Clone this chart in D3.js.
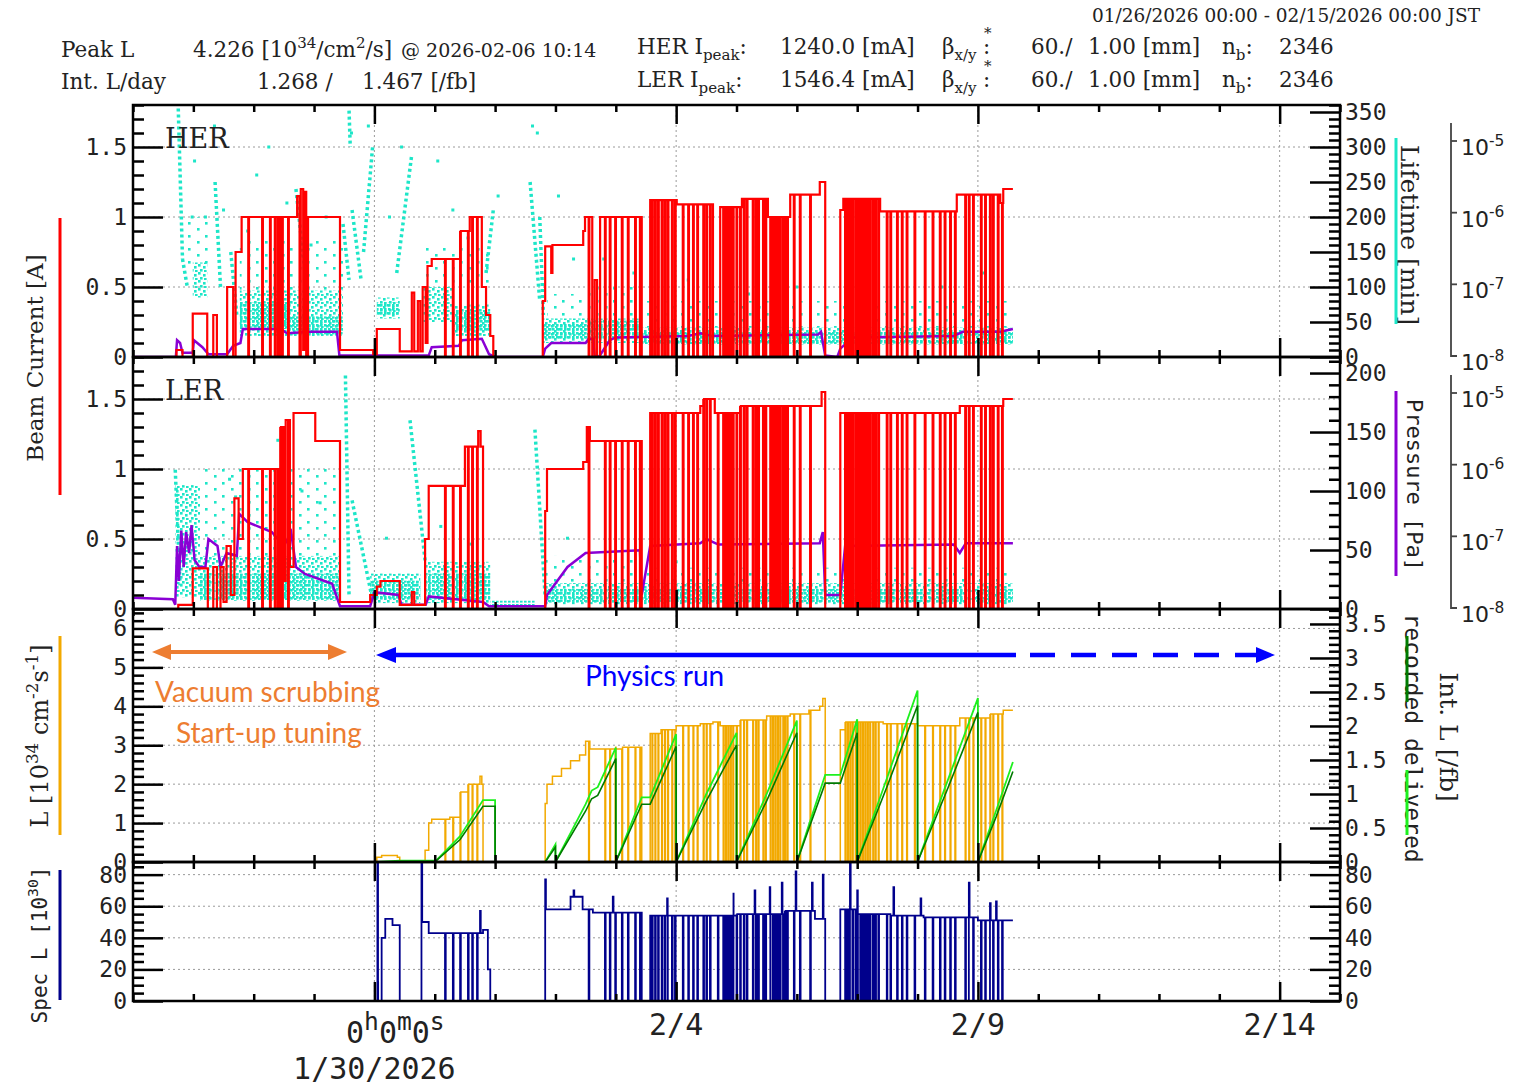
<!DOCTYPE html>
<html>
<head>
<meta charset="utf-8">
<script src="https://cdn.jsdelivr.net/npm/d3@7/dist/d3.min.js"></script>
<style>
body{margin:0;background:#fff;}
svg{display:block;}
</style>
</head>
<body>
<svg id="chart" width="1524" height="1087"></svg>
<script>
// ================= DATA (time = days since 2026-01-26 00:00 JST) =================
const gridDays = [4, 9, 14, 19];
const xTickLabels = [{day: 9, text: "2/4"}, {day: 14, text: "2/9"}, {day: 19, text: "2/14"}];
const originLabel = {day: 4, date: "1/30/2026"};

const herTicks = [0, 0.5, 1, 1.5];
const lerTicks = [0, 0.5, 1, 1.5];
const lifeTicks = [0, 50, 100, 150, 200, 250, 300, 350];
const lerRightTicks = [0, 50, 100, 150, 200];
const lumTicks = [0, 1, 2, 3, 4, 5, 6];
const intTicks = [0, 0.5, 1, 1.5, 2, 2.5, 3, 3.5];
const specTicks = [0, 20, 40, 60, 80];
const logTicks = [1e-5, 1e-6, 1e-7, 1e-8];

// Beam currents [A] (step levels)
const herCurrent = [
 [0,0],[0.72,0.05],[0.82,0],[0.99,0.31],[1.23,0],[1.33,0.3],[1.39,0],[1.56,0.5],[1.66,0],[1.70,0.75],[1.80,1.0],
 [2.72,1.15],[2.76,0],[2.78,1.2],[2.82,0.05],[2.84,1.18],[2.87,0],[2.90,1.0],[3.43,0.05],[3.98,0.02],
 [4.04,0.2],[4.42,0.04],[4.62,0.46],[4.66,0.04],[4.72,0.4],[4.76,0.04],[4.80,0.5],[4.85,0.1],[4.88,0.65],[4.95,0.7],
 [5.42,0.9],[5.58,1.0],[5.78,0.5],[5.85,0.3],[5.92,0.15],[5.97,0],
 [6.79,0.4],[6.83,0.79],[6.93,0.6],[6.95,0.8],[7.46,0.9],[7.49,1.0],[7.61,0],[7.65,0.55],[7.69,0],[7.74,1.0],
 [8.43,0],[8.57,1.12],[9.01,1.09],[9.61,0],[9.73,1.07],[10.09,1.13],[10.52,1.0],[10.89,1.16],[11.38,1.25],[11.47,0],
 [11.72,1.05],[11.77,1.13],[12.38,1.04],[13.65,1.16],[14.37,1.1],[14.42,1.2],[14.58,1.2]
];
const lerCurrent = [
 [0,0],[0.75,0.03],[0.99,0.29],[1.24,0],[1.33,0.3],[1.39,0],[1.45,0.3],[1.50,0.05],[1.55,0.45],[1.62,0.1],[1.68,0.79],
 [1.75,0.5],[1.82,1.0],[2.44,1.3],[2.50,0.2],[2.53,1.35],[2.60,0.3],[2.66,1.4],[3.02,1.2],[3.43,0.05],[3.93,0.1],
 [4.04,0.16],[4.10,0.2],[4.42,0.03],[4.62,0.12],[4.66,0.03],[4.84,0.5],[4.90,0.88],[5.50,1.16],[5.72,1.27],[5.76,1.16],[5.80,0],
 [6.83,0.7],[6.86,1.0],[7.46,1.05],[7.52,1.3],[7.57,1.2],[8.43,0],[8.57,1.4],[9.40,1.45],[9.45,1.5],[9.64,1.4],
 [10.06,1.45],[11.38,1.45],[11.41,1.55],[11.47,0],[11.72,1.4],[13.70,1.45],[14.42,1.5],[14.58,1.5]
];
const tuningAborts = [1.91, 2.14, 2.27, 2.35, 2.40, 2.44, 2.47, 2.57];
const run131Aborts = [5.17, 5.30, 5.42, 5.55, 5.62, 5.70];
const physicsAborts = [7.55,7.82,7.90,7.99,8.10,8.20,8.32,8.40,8.60,8.65,8.70,8.76,8.81,8.86,8.93,8.98,9.11,9.20,9.28,9.35,9.45,
 9.50,9.56,9.69,9.78,9.82,9.86,9.90,9.94,10.00,10.06,10.12,10.17,10.27,10.32,10.36,10.44,10.48,10.56,10.60,10.64,10.68,10.72,
 10.77,10.80,10.84,10.95,11.05,11.22,11.80,11.84,11.88,11.92,11.97,12.01,12.05,12.09,12.13,12.17,12.21,12.26,12.30,12.35,
 12.49,12.55,12.66,12.74,12.82,12.95,13.12,13.25,13.37,13.45,13.54,13.62,13.79,13.85,13.92,14.05,14.12,14.20,14.25,14.33,14.40];

// Vacuum pressure traces (plotted on the current scale)
const herPressure = [
 [0,0],[0.71,0],[0.73,0.12],[0.78,0.1],[0.82,0.03],[0.99,0.03],[1.01,0.12],[1.15,0.07],[1.25,0.02],[1.56,0.02],[1.66,0.08],
 [1.78,0.1],[1.82,0.2],[2.45,0.2],[2.55,0.17],[2.93,0.18],[3.38,0.18],[3.42,0.01],[4.90,0.01],[4.95,0.07],[5.40,0.08],
 [5.45,0.12],[5.78,0.13],[5.90,0.02],[6.0,0],[6.79,0],[6.83,0.06],[6.93,0.1],[7.50,0.1],[7.55,0.13],[7.62,0.13],[7.65,0.01],
 [7.72,0],[7.90,0.12],[8.0,0.14],[9.2,0.15],[9.4,0.17],[9.6,0.15],[11.35,0.16],[11.4,0.18],[11.47,0.01],[11.67,0],
 [11.72,0.06],[11.93,0.14],[13.6,0.15],[13.75,0.18],[14.37,0.18],[14.58,0.2]
];
const lerPressure = [
 [0,0.08],[0.66,0.07],[0.70,0.03],[0.73,0.45],[0.76,0.2],[0.80,0.56],[0.84,0.3],[0.88,0.55],[0.93,0.4],[0.97,0.6],
 [1.02,0.35],[1.10,0.3],[1.20,0.3],[1.25,0.5],[1.40,0.45],[1.45,0.3],[1.55,0.4],[1.72,0.38],[1.76,0.68],[1.90,0.62],
 [2.30,0.55],[2.50,0.45],[2.62,0.55],[2.70,0.3],[2.85,0.25],[3.30,0.18],[3.43,0.02],[3.93,0.02],[4.0,0.12],[4.4,0.1],
 [4.45,0.03],[4.85,0.03],[4.9,0.09],[5.8,0.05],[5.9,0.02],[6.83,0.02],[6.86,0.1],[7.2,0.3],[7.5,0.4],[8.4,0.42],
 [8.43,0.1],[8.57,0.45],[9.4,0.47],[9.5,0.5],[9.7,0.46],[11.38,0.47],[11.43,0.55],[11.47,0.1],[11.72,0.1],[11.8,0.45],
 [13.6,0.46],[13.7,0.4],[13.8,0.47],[14.58,0.47]
];

// Beam lifetime [min]: dense / medium / sparse bands [t0,t1,lo,hi], streaks [t0,v0,t1,v1], isolated dots [t,v]
const herLifeDense = [[1.77,2.60,40,78],[2.60,3.48,32,58],[4.04,4.42,60,78],[5.30,5.92,36,66],[6.79,7.57,26,48],
 [7.57,8.40,26,52],[8.40,14.58,20,36]];
const herLifeMedium = [[0.99,1.23,85,135],[1.77,3.48,30,95],[4.04,4.42,55,85],[4.81,5.30,50,100],[5.30,5.92,30,75],
 [6.79,8.40,20,55],[8.40,14.58,18,42]];
const herLifeSparse = [[0.86,1.30,130,200],[1.77,3.48,95,170],[4.81,5.92,100,160],[6.86,7.57,55,90],[7.57,8.40,55,100],[8.40,14.58,42,80]];
const herLifeStreaks = [[0.75,355,0.82,140],[0.82,140,0.90,100],[1.36,250,1.45,100],[1.62,150,1.72,60],[2.70,240,2.85,120],
 [3.48,190,3.58,110],[3.63,210,3.78,110],[3.82,150,3.97,300],[3.58,352,3.60,300],[4.37,120,4.62,290],[5.85,120,5.97,210],
 [6.58,250,6.74,80],[6.74,200,6.80,60]];
const herLifeDots = [[0.98,200],[1.02,280],[1.20,200],[1.35,330],[1.50,210],[1.90,180],[2.05,260],[2.25,300],[2.55,220],
 [2.95,160],[3.20,200],[3.62,320],[3.90,330],[4.25,200],[4.45,300],[5.05,280],[5.30,210],[5.55,170],[6.05,230],
 [6.62,330],[6.70,320],[7.05,230],[7.30,140],[7.80,140],[8.30,120],[9.20,110],[10.20,90],[11.00,100],[12.20,95],[13.40,100],[14.10,120]];

const lerLifeDense = [[1.11,3.43,8,30],[3.93,4.76,8,24],[4.84,5.92,8,30],[5.92,6.66,3,7],[6.83,14.58,6,17]];
const lerLifeMedium = [[0.70,1.11,10,105],[1.11,3.43,7,45],[3.93,4.76,5,30],[4.84,5.92,5,40],[6.83,14.58,4,22]];
const lerLifeSparse = [[1.11,3.43,45,120],[6.83,8.40,22,45],[8.40,14.58,22,35]];
const lerLifeStreaks = [[0.70,118,0.78,20],[3.52,198,3.58,10],[3.63,92,3.96,10],[4.59,160,4.84,41],[6.66,152,6.83,10]];
const lerLifeDots = [[1.60,110],[1.70,95],[2.40,143],[2.80,100],[3.10,90],[4.20,60],[5.10,70],[5.60,55],[7.20,60],[9.0,40],[12.0,38]];

// Luminosity [1e34 cm^-2 s^-1]
const luminosity = [
 [4.0,0],[4.04,0.12],[4.12,0.17],[4.38,0.12],[4.42,0],[4.84,0.3],[4.90,1.0],[4.95,1.1],[5.25,1.15],[5.42,1.8],[5.55,2.0],
 [5.75,2.2],[5.78,2.0],[5.80,0],[6.83,1.5],[6.86,2.0],[6.95,2.2],[7.10,2.4],[7.25,2.6],[7.40,2.75],[7.50,3.1],[7.57,2.9],
 [8.0,2.95],[8.43,0],[8.57,3.3],[8.75,3.4],[9.0,3.5],[9.40,3.55],[9.61,3.6],[9.73,3.5],[10.06,3.65],[10.50,3.75],
 [10.89,3.8],[11.2,3.9],[11.38,4.0],[11.43,4.2],[11.47,0],[11.72,3.4],[11.80,3.6],[12.43,3.55],[13.0,3.5],[13.7,3.7],
 [14.2,3.8],[14.42,3.9],[14.58,3.9]
];
// Integrated luminosity per day [/fb]
const deliveredIntL = [
 [4.04,0],[4.42,0.02],[5.0,0.02],[5.0,0],[5.42,0.38],[5.80,0.91],[6.0,0.91],[6.0,0],[6.83,0],[7.0,0.26],
 [7.0,0],[7.5,0.85],[7.6,1.05],[7.7,1.1],[8.0,1.68],[8.0,0],[8.43,0.95],[8.57,0.95],[9.0,1.88],
 [9.0,0],[9.5,1.0],[10.0,1.9],[10.0,0],[10.5,1.0],[11.0,2.08],[11.0,0],[11.47,1.28],[11.72,1.28],[12.0,2.1],
 [12.0,0],[12.5,1.25],[13.0,2.52],[13.0,0],[13.5,1.2],[14.0,2.41],[14.0,0],[14.3,0.75],[14.58,1.47]
];
const recordedIntL = [
 [5.0,0],[5.42,0.33],[5.80,0.82],[6.0,0.82],[6.0,0],[6.83,0],[7.0,0.22],
 [7.0,0],[7.5,0.75],[7.6,0.93],[7.7,0.98],[8.0,1.52],[8.0,0],[8.43,0.85],[8.57,0.85],[9.0,1.70],
 [9.0,0],[9.5,0.9],[10.0,1.72],[10.0,0],[10.5,0.9],[11.0,1.9],[11.0,0],[11.47,1.16],[11.72,1.16],[12.0,1.9],
 [12.0,0],[12.5,1.12],[13.0,2.3],[13.0,0],[13.5,1.08],[14.0,2.2],[14.0,0],[14.3,0.66],[14.58,1.33]
];
// Specific luminosity [1e30]
const specLumi = [
 [0,0],[3.98,0],[4.06,12],[4.12,40],[4.18,52],[4.30,48],[4.42,0],[4.78,50],[4.90,43],[5.80,45],[5.88,20],[5.92,0],
 [6.83,58],[7.25,66],[7.45,58],[7.62,56],[8.43,0],[8.57,54],[9.0,54],[10.0,55],[10.8,57],[11.3,52],[11.47,0],
 [11.72,58],[12.0,55],[12.5,54],[13.1,53],[14.0,51],[14.58,51]
];
const specSpikes = [[4.05,88],[4.78,88],[5.75,57],[6.83,77],[7.30,70],[7.95,66],[8.85,65],[9.95,68],[10.30,70],
 [10.55,72],[10.75,75],[10.98,82],[11.25,75],[11.43,80],[11.88,88],[12.00,70],[12.60,72],[13.05,65],[13.85,75],[14.20,62],[14.30,63]];

// ================= DRAWING =================
const svg = d3.select("#chart");
const X0 = 133, X1 = 1340;
const x = d3.scaleLinear().domain([0, 20]).range([X0, X1]);
const P = {her: [105, 357], ler: [357, 609], lum: [609, 862], spec: [862, 1001]};
const yHer = d3.scaleLinear().domain([0, 1.8]).range([357, 105]);
const yHerLife = d3.scaleLinear().domain([0, 360]).range([357, 105]);
const yHerLog = d3.scaleLog().domain([1e-8, 1e-5]).range([356, 141]);
const yLer = d3.scaleLinear().domain([0, 1.8]).range([609, 357]);
const yLerR = d3.scaleLinear().domain([0, 213.6]).range([609, 357]);
const yLerLog = d3.scaleLog().domain([1e-8, 1e-5]).range([608, 393]);
const yLum = d3.scaleLinear().domain([0, 6.5]).range([862, 609]);
const yInt = d3.scaleLinear().domain([0, 3.72]).range([862, 609]);
const ySpec = d3.scaleLinear().domain([0, 88]).range([1001, 862]);

const C = {red: "#ff0000", cyan: "#1de6c8", purple: "#8a00d4", orange: "#f2a900", dgreen: "#007a00",
 lime: "#1ef01e", navy: "#00008c", grid: "#9a9a9a"};
const SERIF = "DejaVu Serif", MONO = "DejaVu Sans Mono", SANS = "DejaVu Sans";

const defs = svg.append("defs");
Object.entries(P).forEach(([k, [t, b]]) => {
  defs.append("clipPath").attr("id", "clip-" + k).append("rect")
    .attr("x", X0).attr("y", t).attr("width", X1 - X0).attr("height", b - t);
});
function pattern(id, w, h, cells) {
  const p = defs.append("pattern").attr("id", id).attr("width", w).attr("height", h).attr("patternUnits", "userSpaceOnUse");
  cells.forEach(([cx, cy]) => p.append("rect").attr("x", cx).attr("y", cy).attr("width", 2.6).attr("height", 2.6).attr("fill", C.cyan));
}
pattern("dense", 4, 4, [[0, 0]]);
pattern("medium", 9, 8, [[0, 0], [5, 2], [2, 5], [6, 6]]);
pattern("sparse", 17, 13, [[1, 1], [10, 7]]);

// helpers
function levelAt(series, t) { let v = 0; for (const p of series) { if (p[0] <= t) v = p[1]; else break; } return v; }
function withEvents(series, aborts, spikes) {
  const w = 0.012;
  const pts = series.map(p => [p[0], p[1]]);
  const lo = series[0][0], hi = series[series.length - 1][0];
  (aborts || []).forEach(t => {
    if (t <= lo || t >= hi) return;
    const v = levelAt(series, t);
    if (v > 0.05) pts.push([t, 0], [t + w, v]);
  });
  (spikes || []).forEach(([t, s]) => {
    if (t < lo || t >= hi) return;
    const v = levelAt(series, t);
    pts.push([t, s], [t + w, v]);
  });
  pts.sort((a, b) => a[0] - b[0]);
  return pts;
}
const allAborts = tuningAborts.concat(run131Aborts, physicsAborts);

function layer(k) { return svg.append("g").attr("clip-path", `url(#clip-${k})`); }

// ---- grid ----
const grid = svg.append("g").attr("stroke", C.grid).attr("stroke-width", 1).attr("stroke-dasharray", "2,3");
gridDays.forEach(d => grid.append("line").attr("x1", x(d)).attr("x2", x(d)).attr("y1", 105).attr("y2", 1001));
[[yHer, [0.5, 1, 1.5]], [yLer, [0.5, 1, 1.5]], [yLum, [1, 2, 3, 4, 5, 6]], [ySpec, [20, 40, 60, 80]]].forEach(([y, vals]) => {
  vals.forEach(v => grid.append("line").attr("x1", X0).attr("x2", X1).attr("y1", y(v)).attr("y2", y(v)));
});

// ---- lifetime (cyan) ----
function drawLife(k, yS, dense, medium, sparse, streaks, dots) {
  const g = layer(k);
  [[sparse, "sparse"], [medium, "medium"], [dense, "dense"]].forEach(([bands, pat]) => {
    g.selectAll(null).data(bands).join("rect")
      .attr("x", d => x(d[0])).attr("width", d => x(d[1]) - x(d[0]))
      .attr("y", d => yS(d[3])).attr("height", d => yS(d[2]) - yS(d[3])).attr("fill", `url(#${pat})`);
  });
  g.selectAll(null).data(streaks).join("line")
    .attr("x1", d => x(d[0])).attr("y1", d => yS(d[1])).attr("x2", d => x(d[2])).attr("y2", d => yS(d[3]))
    .attr("stroke", C.cyan).attr("stroke-width", 3.5).attr("stroke-dasharray", "3,3");
  g.selectAll(null).data(dots).join("rect")
    .attr("x", d => x(d[0]) - 1.5).attr("y", d => yS(d[1]) - 1.5).attr("width", 3).attr("height", 3).attr("fill", C.cyan);
}
drawLife("her", yHerLife, herLifeDense, herLifeMedium, herLifeSparse, herLifeStreaks, herLifeDots);
drawLife("ler", yLerR, lerLifeDense, lerLifeMedium, lerLifeSparse, lerLifeStreaks, lerLifeDots);

// ---- pressure (purple) ----
const lin = (y) => d3.line().x(d => x(d[0])).y(d => y(d[1]));
const step = (y) => d3.line().x(d => x(d[0])).y(d => y(d[1])).curve(d3.curveStepAfter);
layer("her").append("path").attr("d", lin(yHer)(herPressure)).attr("fill", "none").attr("stroke", C.purple).attr("stroke-width", 2.5);
layer("ler").append("path").attr("d", lin(yLer)(lerPressure)).attr("fill", "none").attr("stroke", C.purple).attr("stroke-width", 2.5);

// ---- currents (red) ----
layer("her").append("path").attr("d", step(yHer)(withEvents(herCurrent, allAborts))).attr("fill", "none")
  .attr("stroke", C.red).attr("stroke-width", 2.2);
layer("ler").append("path").attr("d", step(yLer)(withEvents(lerCurrent, allAborts))).attr("fill", "none")
  .attr("stroke", C.red).attr("stroke-width", 2.2);

// ---- luminosity ----
layer("lum").append("path").attr("d", step(yLum)(withEvents(luminosity, run131Aborts.concat(physicsAborts)))).attr("fill", "none")
  .attr("stroke", C.orange).attr("stroke-width", 1.5);
layer("lum").append("path").attr("d", lin(yInt)(deliveredIntL)).attr("fill", "none").attr("stroke", C.lime).attr("stroke-width", 1.8);
layer("lum").append("path").attr("d", lin(yInt)(recordedIntL)).attr("fill", "none").attr("stroke", C.dgreen).attr("stroke-width", 1.6);

// ---- specific luminosity ----
layer("spec").append("path").attr("d", step(ySpec)(withEvents(specLumi, run131Aborts.concat(physicsAborts), specSpikes)))
  .attr("fill", "none").attr("stroke", C.navy).attr("stroke-width", 1.8);

// ---- frames ----
Object.values(P).forEach(([t, b]) => svg.append("rect").attr("x", X0).attr("y", t).attr("width", X1 - X0).attr("height", b - t)
  .attr("fill", "none").attr("stroke", "#000").attr("stroke-width", 2.5));

// ---- x ticks ----
const dayTicks = x.ticks(20);
function xTicks(y, dir) {
  [[dayTicks.filter(d => !gridDays.includes(d)), 7], [gridDays, 19]].forEach(([vals, len]) => {
    const ax = (dir === "down" ? d3.axisBottom(x) : d3.axisTop(x)).tickValues(vals).tickSize(len).tickFormat("");
    const g = svg.append("g").attr("transform", `translate(0,${y})`).call(ax);
    g.select(".domain").remove();
    g.selectAll(".tick line").attr("stroke", "#000").attr("stroke-width", 2.5);
  });
}
[105, 357, 609, 862].forEach(y => xTicks(y, "down"));
[357, 609, 862, 1001].forEach(y => xTicks(y, "up"));

// ---- y axes ----
function yAxis(scale, side, majors, minorStep, fmt) {
  const X = side === "left" ? X0 : X1;
  const mk = side === "left" ? d3.axisLeft : d3.axisRight;
  const g = svg.append("g").attr("transform", `translate(${X},0)`)
    .call(mk(scale).tickValues(majors).tickSizeInner(-30).tickSizeOuter(0).tickPadding(side === "left" ? 6 : 5).tickFormat(fmt));
  g.select(".domain").remove();
  g.selectAll(".tick line").attr("stroke", "#000").attr("stroke-width", 2.5);
  g.selectAll(".tick text").attr("font-family", MONO).attr("font-size", 23).attr("fill", "#222");
  const [d0, d1] = scale.domain();
  const minors = d3.range(d0, d1 + 1e-9, minorStep).filter(v => !majors.some(m => Math.abs(m - v) < 1e-6));
  const gm = svg.append("g").attr("transform", `translate(${X},0)`)
    .call(mk(scale).tickValues(minors).tickSizeInner(-11).tickSizeOuter(0).tickFormat(""));
  gm.select(".domain").remove();
  gm.selectAll(".tick line").attr("stroke", "#000").attr("stroke-width", 2.5);
}
const f = d => String(d);
yAxis(yHer, "left", herTicks, 0.1, f);
yAxis(yLer, "left", lerTicks, 0.1, f);
yAxis(yLum, "left", lumTicks, 0.2, f);
yAxis(ySpec, "left", specTicks, 5, f);
yAxis(yHerLife, "right", lifeTicks, 10, f);
yAxis(yLerR, "right", lerRightTicks, 10, f);
yAxis(yInt, "right", intTicks, 0.1, f);
yAxis(ySpec, "right", specTicks, 5, f);

// ---- rich text helper ----
function rich(sel, parts, fs, supScale) {
  let shift = 0;
  const k = supScale || 0.7;
  parts.forEach(p => {
    const [t, type] = Array.isArray(p) ? p : [p, null];
    const target = type === "sup" ? -0.42 * fs : type === "sub" ? 0.28 * fs : 0;
    const ts = sel.append("tspan").attr("dy", target - shift).text(t);
    if (type) ts.attr("font-size", fs * k);
    shift = target;
  });
  return sel;
}
function txt(x0, y0, parts, fs, fam, opts = {}) {
  const t = svg.append("text").attr("x", x0).attr("y", y0).attr("font-size", fs).attr("font-family", fam)
    .attr("fill", opts.fill || "#222").attr("text-anchor", opts.anchor || "start");
  if (opts.rotate) t.attr("transform", `rotate(${opts.rotate},${x0},${y0})`);
  return rich(t, parts, fs, opts.supScale);
}

// ---- log pressure axes ----
function logAxis(scale, yTop, yBot) {
  const g = svg.append("g");
  g.append("path").attr("d", `M1451,${yTop}V${yBot}H1457`).attr("fill", "none").attr("stroke", "#444").attr("stroke-width", 1.8);
  logTicks.forEach(v => {
    const yy = scale(v);
    if (v > 1e-8) g.append("line").attr("x1", 1451).attr("x2", 1457).attr("y1", yy).attr("y2", yy).attr("stroke", "#444").attr("stroke-width", 1.8);
    const e = Math.round(Math.log10(v));
    txt(1461, yy + 14, ["10", [String(e), "sup"]], 22, SANS);
  });
}
logAxis(yHerLog, 123, 356);
logAxis(yLerLog, 375, 608);

// ---- header ----
const HF = 21.5;
txt(61, 57, ["Peak L"], HF, SERIF);
txt(193, 57, ["4.226 [10", ["34", "sup"], "/cm", ["2", "sup"], "/s]"], HF, SERIF);
txt(401, 57, ["@ 2026-02-06 10:14"], 19, SERIF);
txt(61, 89, ["Int. L/day"], HF, SERIF);
txt(257, 89, ["1.268 /"], HF, SERIF);
txt(362, 89, ["1.467 [/fb]"], HF, SERIF);
[["HER", "1240.0", 54, 38], ["LER", "1546.4", 87, 71]].forEach(([ring, cur, yb, ys]) => {
  txt(637, yb, [ring + " I", ["peak", "sub"], ":"], HF, SERIF);
  txt(780, yb, [cur + " [mA]"], HF, SERIF);
  txt(942, yb, ["β", ["x/y", "sub"]], HF, SERIF);
  txt(983, yb, [":"], HF, SERIF);
  txt(984, ys, ["*"], 15, SERIF);
  txt(1031, yb, ["60./"], HF, SERIF);
  txt(1088, yb, ["1.00 [mm]"], HF, SERIF);
  txt(1222, yb, ["n", ["b", "sub"], ":"], HF, SERIF);
  txt(1279, yb, ["2346"], HF, SERIF);
});
txt(1092, 22, ["01/26/2026 00:00 - 02/15/2026 00:00 JST"], 18.5, SERIF);

// ---- ring labels ----
txt(165, 148, ["HER"], 27, SERIF);
txt(165, 400, ["LER"], 27, SERIF);

// ---- x labels ----
txt(346, 1043, ["0", ["h", "sup"], "0", ["m", "sup"], "0", ["s", "sup"]], 30, MONO, {supScale: 0.82});
txt(x(originLabel.day), 1079, [originLabel.date], 30, MONO, {anchor: "middle"});
xTickLabels.forEach(d => txt(x(d.day), 1035, [d.text], 30, MONO, {anchor: "middle"}));

// ---- axis titles + colour keys ----
txt(43, 358, ["Beam Current [A]"], 23, SERIF, {anchor: "middle", rotate: -90});
txt(48, 736, ["L [10", ["34", "sup"], " cm", ["-2", "sup"], "s", ["-1", "sup"], "]"], 24, SERIF, {anchor: "middle", rotate: -90});
txt(47, 945, ["Spec L [10", ["30", "sup"], "]"], 21, MONO, {anchor: "middle", rotate: -90});
txt(1401, 235, ["Lifetime [min]"], 25, SERIF, {anchor: "middle", rotate: 90});
txt(1407, 485, ["Pressure [Pa]"], 22, MONO, {anchor: "middle", rotate: 90});
txt(1405, 738, ["recorded delivered"], 23, MONO, {anchor: "middle", rotate: 90});
txt(1440, 737, ["Int. L [/fb]"], 25, SERIF, {anchor: "middle", rotate: 90});
[[60, 218, 495, C.red], [60, 636, 835, C.orange], [60, 870, 1000, C.navy], [1396, 138, 324, C.cyan],
 [1396, 391, 576, C.purple], [1407, 636, 702, C.dgreen], [1407, 770, 835, C.lime]].forEach(([xx, a, b, c]) =>
  svg.append("line").attr("x1", xx).attr("x2", xx).attr("y1", a).attr("y2", b).attr("stroke", c).attr("stroke-width", 3));

// ---- annotations ----
const OR = "#ed7d31", BL = "#0000ff";
const ann = svg.append("g");
ann.append("line").attr("x1", 166).attr("x2", 333).attr("y1", 652).attr("y2", 652).attr("stroke", OR).attr("stroke-width", 4);
ann.append("path").attr("d", "M152,652L171,644L171,660Z").attr("fill", OR);
ann.append("path").attr("d", "M347,652L328,644L328,660Z").attr("fill", OR);
ann.append("line").attr("x1", 392).attr("x2", 1016).attr("y1", 655).attr("y2", 655).attr("stroke", BL).attr("stroke-width", 4.5);
ann.append("path").attr("d", "M376,655L396,647L396,663Z").attr("fill", BL);
ann.append("line").attr("x1", 1030).attr("x2", 1260).attr("y1", 655).attr("y2", 655).attr("stroke", BL).attr("stroke-width", 4.5)
  .attr("stroke-dasharray", "25,16");
ann.append("path").attr("d", "M1275,655L1256,647L1256,663Z").attr("fill", BL);
txt(155, 702, ["Vacuum scrubbing"], 28, "Lato", {fill: OR});
txt(176, 743, ["Start-up tuning"], 28, "Lato", {fill: OR});
txt(585, 686, ["Physics run"], 28, "Lato", {fill: BL});
</script>
</body>
</html>
